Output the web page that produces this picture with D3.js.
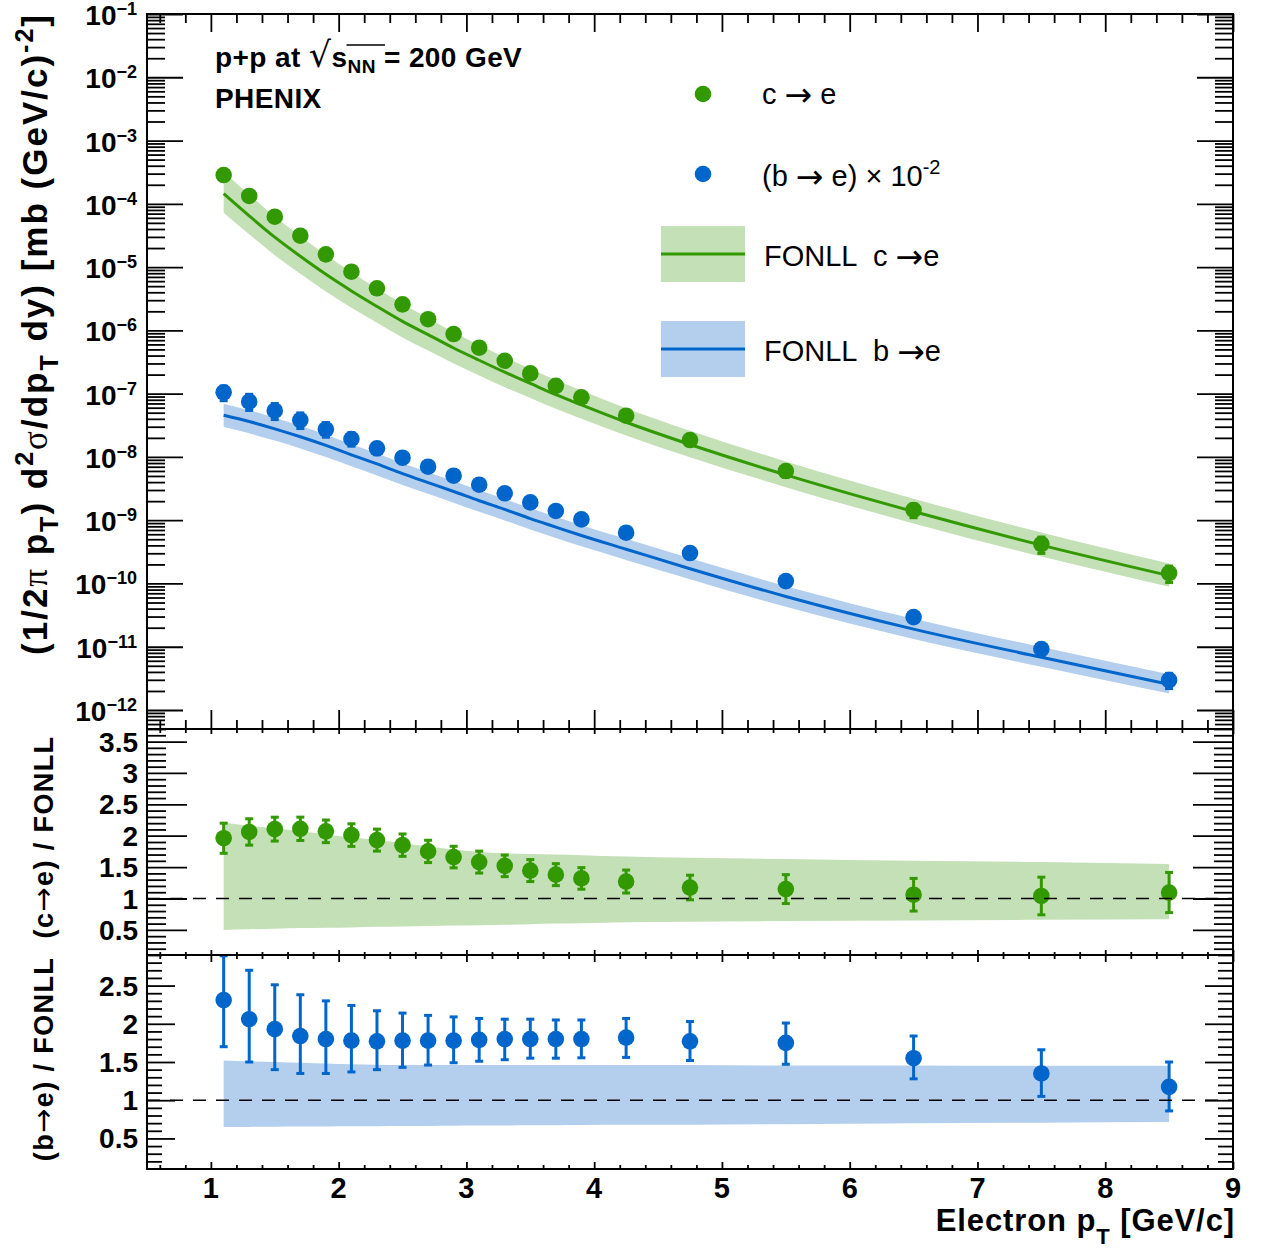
<!DOCTYPE html>
<html><head><meta charset="utf-8">
<script src="https://cdn.jsdelivr.net/npm/d3@7"></script>
<style>
body{margin:0;background:#fff}
svg{display:block}
text{font-family:"Liberation Sans",Arial,Helvetica,sans-serif;fill:#000}
</style>
</head><body>
<svg id="chart" width="1265" height="1253"></svg>
<script>
// ---------------- data ----------------
const ptBins = [1.1,1.3,1.5,1.7,1.9,2.1,2.3,2.5,2.7,2.9,3.1,3.3,3.5,3.7,3.9,4.25,4.75,5.5,6.5,7.5,8.5];
// measured c->e invariant cross section [mb (GeV/c)^-2]
const ceYield = [2.85e-4,1.33e-4,6.25e-5,3.13e-5,1.59e-5,8.45e-6,4.62e-6,2.58e-6,1.50e-6,8.75e-7,5.32e-7,3.31e-7,2.09e-7,1.33e-7,8.75e-8,4.48e-8,1.85e-8,5.98e-9,1.45e-9,4.20e-10,1.46e-10];
// measured b->e cross section x 1e-2
const beYield = [1.05e-7,7.45e-8,5.37e-8,3.83e-8,2.73e-8,1.92e-8,1.37e-8,9.71e-9,7.00e-9,5.05e-9,3.64e-9,2.66e-9,1.91e-9,1.40e-9,1.03e-9,6.34e-10,3.03e-10,1.09e-10,2.94e-11,9.20e-12,2.98e-12];
// FONLL central values
const fonllC = [1.45e-4,6.46e-5,2.97e-5,1.48e-5,7.68e-6,4.20e-6,2.39e-6,1.39e-6,8.57e-7,5.27e-7,3.37e-7,2.18e-7,1.45e-7,9.64e-8,6.63e-8,3.53e-8,1.57e-8,5.20e-9,1.37e-9,4.04e-10,1.33e-10];
const fonllB = [4.55e-8,3.62e-8,2.78e-8,2.08e-8,1.52e-8,1.08e-8,7.74e-9,5.46e-9,3.93e-9,2.84e-9,2.03e-9,1.48e-9,1.06e-9,7.78e-10,5.72e-10,3.48e-10,1.71e-10,6.23e-11,1.90e-11,6.81e-12,2.54e-12];
// FONLL uncertainty band relative to central (upper / lower)
const fonllCUp = [2.21,2.16,2.12,2.07,2.02,1.97,1.93,1.88,1.83,1.78,1.74,1.72,1.71,1.70,1.69,1.67,1.65,1.63,1.60,1.58,1.55];
const fonllCLo = [0.50,0.51,0.52,0.53,0.535,0.54,0.55,0.555,0.56,0.57,0.575,0.58,0.59,0.60,0.605,0.62,0.63,0.64,0.65,0.66,0.67];
const fonllBUp = [1.52,1.51,1.50,1.49,1.48,1.47,1.465,1.46,1.46,1.46,1.46,1.46,1.46,1.46,1.46,1.46,1.46,1.455,1.455,1.45,1.45];
const fonllBLo = [0.65,0.651,0.653,0.655,0.657,0.659,0.66,0.662,0.664,0.666,0.668,0.67,0.672,0.674,0.676,0.678,0.68,0.687,0.697,0.706,0.715];
// data / FONLL ratios with uncertainties
const ceRatio = [1.96,2.06,2.105,2.11,2.07,2.01,1.93,1.85,1.75,1.66,1.58,1.52,1.445,1.38,1.32,1.27,1.175,1.15,1.06,1.04,1.095];
const ceRatioErr = [0.24,0.21,0.19,0.186,0.18,0.18,0.175,0.178,0.178,0.172,0.175,0.172,0.175,0.175,0.172,0.183,0.196,0.23,0.26,0.30,0.32];
const beRatio = [2.31,2.06,1.93,1.84,1.80,1.78,1.77,1.78,1.78,1.78,1.79,1.80,1.80,1.80,1.80,1.82,1.77,1.75,1.55,1.35,1.175];
const beRatioErrUp = [0.58,0.64,0.58,0.54,0.50,0.46,0.40,0.36,0.33,0.31,0.28,0.26,0.26,0.25,0.25,0.25,0.26,0.26,0.29,0.31,0.325];
const beRatioErrDn = [0.61,0.56,0.53,0.49,0.45,0.41,0.37,0.35,0.32,0.29,0.28,0.27,0.25,0.25,0.245,0.26,0.25,0.28,0.27,0.30,0.315];
// axes
const xDomain = [0.5, 9];
const xMajorTicks = [1,2,3,4,5,6,7,8,9];
const yTopExponents = [-1,-2,-3,-4,-5,-6,-7,-8,-9,-10,-11,-12];
const yTopDomain = [Math.pow(10,-12.3), 0.1];
const yMidDomain = [0.1, 3.7];
const yMidTicks = [0.5,1,1.5,2,2.5,3,3.5];
const yBotDomain = [0.1, 2.9];
const yBotTicks = [0.5,1,1.5,2,2.5];

// ---------------- layout ----------------
const GREEN = "#339900", BLUE = "#0066cc";
const GREEN_BAND = "#c4e0b7", BLUE_BAND = "#b3cfed";
const L = 147, R = 1233;
const P = {top:[14,729], mid:[729,955], bot:[955,1169]};
const ARROWFONT = "DejaVu Sans, sans-serif";

const svg = d3.select("#chart");
const x = d3.scaleLinear().domain(xDomain).range([L,R]);
const yTop = d3.scaleLog().domain(yTopDomain).range([P.top[1],P.top[0]]);
const yMid = d3.scaleLinear().domain(yMidDomain).range([P.mid[1],P.mid[0]]);
const yBot = d3.scaleLinear().domain(yBotDomain).range([P.bot[1],P.bot[0]]);

const rows = ptBins.map((pt,i)=>({
  pt, ce:ceYield[i], be:beYield[i], fc:fonllC[i], fb:fonllB[i],
  cUp:fonllCUp[i], cLo:fonllCLo[i], bUp:fonllBUp[i], bLo:fonllBLo[i],
  cr:ceRatio[i], crE:ceRatioErr[i], br:beRatio[i], brU:beRatioErrUp[i], brD:beRatioErrDn[i]
}));

function clip(id, y0, y1){
  svg.append("clipPath").attr("id",id).append("rect")
    .attr("x",L).attr("y",y0).attr("width",R-L).attr("height",y1-y0);
}
clip("cTop",P.top[0],P.top[1]); clip("cMid",P.mid[0],P.mid[1]); clip("cBot",P.bot[0],P.bot[1]);

function errorBars(g, data, xf, yc, ylo, yhi, color){
  const eg = g.append("g").attr("fill",color).attr("stroke",color);
  eg.selectAll("line.e").data(data).join("line")
    .attr("x1",d=>xf(d)).attr("x2",d=>xf(d))
    .attr("y1",d=>ylo(d)).attr("y2",d=>yhi(d))
    .attr("stroke-width",3);
  [ylo,yhi].forEach(fn=>{
    eg.selectAll(null).data(data).join("rect")
      .attr("x",d=>xf(d)-4).attr("y",d=>fn(d)-1.5)
      .attr("width",8).attr("height",3).attr("stroke","none");
  });
  g.selectAll(null).data(data).join("circle")
    .attr("cx",d=>xf(d)).attr("cy",d=>yc(d)).attr("r",8.3).attr("fill",color);
}

// ---------------- top panel ----------------
const gTop = svg.append("g").attr("clip-path","url(#cTop)");
const curve = d3.curveMonotoneX;
gTop.append("path").datum(rows).attr("fill",GREEN_BAND)
  .attr("d",d3.area().curve(curve).x(d=>x(d.pt)).y0(d=>yTop(d.fc*d.cLo)).y1(d=>yTop(d.fc*d.cUp)));
gTop.append("path").datum(rows).attr("fill",BLUE_BAND)
  .attr("d",d3.area().curve(curve).x(d=>x(d.pt)).y0(d=>yTop(d.fb*d.bLo)).y1(d=>yTop(d.fb*d.bUp)));
gTop.append("path").datum(rows).attr("fill","none").attr("stroke",GREEN).attr("stroke-width",3)
  .attr("d",d3.line().curve(curve).x(d=>x(d.pt)).y(d=>yTop(d.fc)));
gTop.append("path").datum(rows).attr("fill","none").attr("stroke",BLUE).attr("stroke-width",3)
  .attr("d",d3.line().curve(curve).x(d=>x(d.pt)).y(d=>yTop(d.fb)));
errorBars(gTop, rows, d=>x(d.pt), d=>yTop(d.ce),
  d=>yTop(d.ce*(1-d.crE/d.cr)), d=>yTop(d.ce*(1+d.crE/d.cr)), GREEN);
errorBars(gTop, rows, d=>x(d.pt), d=>yTop(d.be),
  d=>yTop(d.be*(1-d.brD/d.br)), d=>yTop(d.be*(1+d.brU/d.br)), BLUE);

// ---------------- middle panel ----------------
const gMid = svg.append("g").attr("clip-path","url(#cMid)");
gMid.append("path").datum(rows).attr("fill",GREEN_BAND)
  .attr("d",d3.area().curve(curve).x(d=>x(d.pt)).y0(d=>yMid(d.cLo)).y1(d=>yMid(d.cUp)));
errorBars(gMid, rows, d=>x(d.pt), d=>yMid(d.cr), d=>yMid(d.cr-d.crE), d=>yMid(d.cr+d.crE), GREEN);
gMid.append("line").attr("x1",x(xDomain[0])).attr("x2",x(xDomain[1]))
  .attr("y1",yMid(1)).attr("y2",yMid(1)).attr("stroke","#000").attr("stroke-width",1.6)
  .attr("stroke-dasharray","13,10");

// ---------------- bottom panel ----------------
const gBot = svg.append("g").attr("clip-path","url(#cBot)");
gBot.append("path").datum(rows).attr("fill",BLUE_BAND)
  .attr("d",d3.area().curve(curve).x(d=>x(d.pt)).y0(d=>yBot(d.bLo)).y1(d=>yBot(d.bUp)));
errorBars(gBot, rows, d=>x(d.pt), d=>yBot(d.br), d=>yBot(d.br-d.brD), d=>yBot(Math.min(d.br+d.brU,2.89)), BLUE);
gBot.append("line").attr("x1",x(xDomain[0])).attr("x2",x(xDomain[1]))
  .attr("y1",yBot(1)).attr("y2",yBot(1)).attr("stroke","#000").attr("stroke-width",1.6)
  .attr("stroke-dasharray","13,10");

// ---------------- axes / ticks ----------------
function ticks(axisFn, scale, values, len, transform){
  const g = svg.append("g").attr("transform",transform)
    .call(axisFn(scale).tickValues(values).tickSizeInner(-len).tickSizeOuter(0).tickFormat(""));
  g.select(".domain").remove();
  g.selectAll(".tick line").attr("stroke","#000").attr("stroke-width",1.8);
}
const xMinor = d3.range(0.6, 9.0001, 0.2).map(v=>+v.toFixed(2)).filter(v=>Math.abs(v-Math.round(v))>1e-6);
function xTicksFor(yTopPx, yBotPx, topMaj, topMin, botMaj, botMin){
  ticks(d3.axisTop, x, xMajorTicks, topMaj, `translate(0,${yTopPx})`);
  ticks(d3.axisTop, x, xMinor, topMin, `translate(0,${yTopPx})`);
  ticks(d3.axisBottom, x, xMajorTicks, botMaj, `translate(0,${yBotPx})`);
  ticks(d3.axisBottom, x, xMinor, botMin, `translate(0,${yBotPx})`);
}
xTicksFor(P.top[0],P.top[1],18,9,19,9);
xTicksFor(P.mid[0],P.mid[1],5,4,5,3);
xTicksFor(P.bot[0],P.bot[1],7,4,7,4);

const logMajor = yTopExponents.map(e=>Math.pow(10,e));
const logMinor = [];
for(let e=-13;e<=-2;e++){ for(let m=2;m<=9;m++){ const v=m*Math.pow(10,e); if(v>=yTopDomain[0]&&v<=yTopDomain[1]) logMinor.push(v);} }
function yTicksFor(scale, major, minor, maj, min){
  ticks(d3.axisLeft, scale, major, maj, `translate(${L},0)`);
  ticks(d3.axisLeft, scale, minor, min, `translate(${L},0)`);
  ticks(d3.axisRight, scale, major, maj, `translate(${R},0)`);
  ticks(d3.axisRight, scale, minor, min, `translate(${R},0)`);
}
yTicksFor(yTop, logMajor, logMinor, 36, 18);
const midMinor = d3.range(0.2, 3.7001, 0.1).map(v=>+v.toFixed(2)).filter(v=>!yMidTicks.includes(v));
const botMinor = d3.range(0.2, 2.9001, 0.1).map(v=>+v.toFixed(2)).filter(v=>!yBotTicks.includes(v));
yTicksFor(yMid, yMidTicks, midMinor, 40, 19);
yTicksFor(yBot, yBotTicks, botMinor, 28, 15);

svg.append("g").selectAll("rect").data([P.top,P.mid,P.bot]).join("rect")
  .attr("x",L).attr("y",d=>d[0]).attr("width",R-L).attr("height",d=>d[1]-d[0])
  .attr("fill","none").attr("stroke","#000").attr("stroke-width",2);

// ---------------- tick labels ----------------
const TL = 28;
const topLab = svg.append("g").attr("font-weight","bold").attr("text-anchor","end");
yTopExponents.forEach(e=>{
  const t = topLab.append("text").attr("x",137).attr("y",yTop(Math.pow(10,e))+11).attr("font-size",TL);
  t.append("tspan").text("10");
  t.append("tspan").attr("font-size",18).attr("dy",-10).text("\u2212"+Math.abs(e));
});
svg.append("g").attr("font-weight","bold").attr("text-anchor","end").attr("font-size",TL)
  .selectAll("text").data(yMidTicks).join("text")
  .attr("x",138).attr("y",d=>yMid(d)+10).text(d=>String(d));
svg.append("g").attr("font-weight","bold").attr("text-anchor","end").attr("font-size",TL)
  .selectAll("text").data(yBotTicks).join("text")
  .attr("x",138).attr("y",d=>yBot(d)+10).text(d=>String(d));
svg.append("g").attr("font-weight","bold").attr("text-anchor","middle").attr("font-size",29)
  .selectAll("text").data(xMajorTicks).join("text")
  .attr("x",d=>x(d)).attr("y",1198).text(d=>String(d));

// ---------------- axis titles ----------------
const xt = svg.append("text").attr("x",1235).attr("y",1231).attr("text-anchor","end")
  .attr("font-weight","bold").attr("font-size",31).attr("letter-spacing",0.9);
xt.append("tspan").text("Electron p");
xt.append("tspan").attr("font-size",22).attr("dy",13).text("T");
xt.append("tspan").attr("dy",-13).text(" [GeV/c]");

const yt = svg.append("text").attr("transform","translate(47,334) rotate(-90)")
  .attr("text-anchor","middle").attr("font-weight","bold").attr("font-size",35).attr("letter-spacing",2);
yt.append("tspan").text("(1/2");
yt.append("tspan").attr("font-family","Liberation Serif, serif").attr("font-weight","normal").text("\u03c0");
yt.append("tspan").text(" p");
yt.append("tspan").attr("font-size",25).attr("dy",11).text("T");
yt.append("tspan").attr("dy",-11).text(") d");
yt.append("tspan").attr("font-size",25).attr("dy",-14).text("2");
yt.append("tspan").attr("dy",14).attr("font-family","Liberation Serif, serif").attr("font-weight","normal").text("\u03c3");
yt.append("tspan").text("/dp");
yt.append("tspan").attr("font-size",25).attr("dy",11).text("T");
yt.append("tspan").attr("dy",-11).text(" dy) [mb (GeV/c)");
yt.append("tspan").attr("font-size",25).attr("dy",-14).text("-2");
yt.append("tspan").attr("dy",14).text("]");

function ratioTitle(label, cy){
  const t = svg.append("text").attr("transform",`translate(53,${cy}) rotate(-90)`)
    .attr("text-anchor","middle").attr("font-weight","bold").attr("font-size",27).attr("letter-spacing",1.4);
  t.append("tspan").text(label[0]);
  t.append("tspan").attr("font-weight","normal").attr("font-family",ARROWFONT).attr("font-size",29).text("\u2192");
  t.append("tspan").text(label[1]);
}
ratioTitle(["(c","e) / FONLL"], 837);
ratioTitle(["(b","e) / FONLL"], 1059);

// ---------------- annotations ----------------
const ann = svg.append("g").attr("font-weight","bold").attr("font-size",28);
const a1 = ann.append("text").attr("x",215).attr("y",67).attr("letter-spacing",0.4);
a1.append("tspan").text("p+p at  ");
a1.append("tspan").attr("font-weight","normal").attr("font-family",ARROWFONT).attr("font-size",35).text("\u221a");
a1.append("tspan").text("s");
a1.append("tspan").attr("font-size",19).attr("dy",6).text("NN");
a1.append("tspan").attr("dy",-6).text(" = 200 GeV");
ann.append("text").attr("x",215).attr("y",108).attr("letter-spacing",0.4).text("PHENIX");
{
  const node = a1.node();
  const i0 = "p+p at  ".length;
  const xs = node.getEndPositionOfChar(i0).x;
  const xe = node.getEndPositionOfChar(i0+3).x;
  const bb = node.getExtentOfChar(i0);
  svg.append("line").attr("x1",xs-1).attr("x2",xe+1).attr("y1",bb.y+3).attr("y2",bb.y+3)
    .attr("stroke","#000").attr("stroke-width",1.6);
}

// ---------------- legend ----------------
const leg = svg.append("g").attr("font-size",29);
leg.append("circle").attr("cx",703).attr("cy",94).attr("r",8.3).attr("fill",GREEN);
leg.append("circle").attr("cx",703).attr("cy",174).attr("r",8.3).attr("fill",BLUE);
function arrow(t, size){
  t.append("tspan").attr("font-family",ARROWFONT).attr("font-size",size).attr("dy",2).text("\u2192");
}
const l1 = leg.append("text").attr("x",762).attr("y",104);
l1.append("tspan").text("c ");
arrow(l1, 33);
l1.append("tspan").attr("dy",-2).text(" e");
const lb = leg.append("text").attr("x",762).attr("y",186);
lb.append("tspan").text("(b ");
arrow(lb, 33);
lb.append("tspan").attr("dy",-2).text(" e) \u00d7 10");
lb.append("tspan").attr("font-size",20).attr("dy",-12).text("-2");
leg.append("rect").attr("x",661).attr("y",226).attr("width",84).attr("height",56).attr("fill",GREEN_BAND);
leg.append("line").attr("x1",661).attr("x2",745).attr("y1",254).attr("y2",254).attr("stroke",GREEN).attr("stroke-width",3);
leg.append("rect").attr("x",661).attr("y",321).attr("width",84).attr("height",56).attr("fill",BLUE_BAND);
leg.append("line").attr("x1",661).attr("x2",745).attr("y1",349).attr("y2",349).attr("stroke",BLUE).attr("stroke-width",3);
[["c",266],["b",361]].forEach(([q,yb])=>{
  const t = leg.append("text").attr("x",764).attr("y",yb);
  t.append("tspan").text("FONLL");
  t.append("tspan").attr("x",873).text(q+" ");
  arrow(t, 33);
  t.append("tspan").attr("dy",-2).text("e");
});
</script>
</body></html>
